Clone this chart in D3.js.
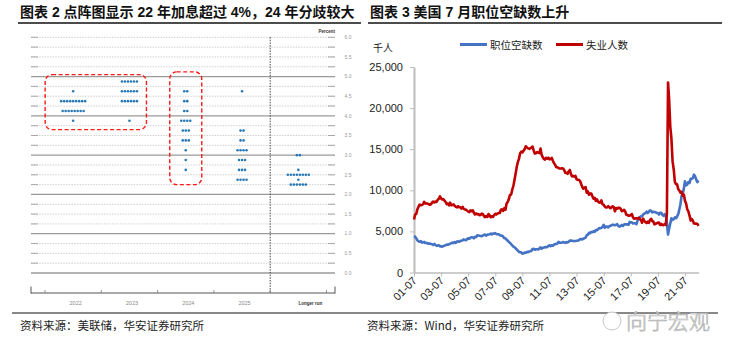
<!DOCTYPE html>
<html>
<head>
<meta charset="utf-8">
<script src="https://cdn.jsdelivr.net/npm/d3@7"></script>
<style>
  body { margin: 0; background: #fff; }
  text { font-family: "Liberation Sans", "Noto Sans CJK SC", sans-serif; }
  .cjk { font-family: "Noto Sans CJK SC", sans-serif; }
</style>
</head>
<body>
<script>
// ---- data: FOMC dot plot (Sept 2022), [rate, number of dots]
let dotCats = ["2022", "2023", "2024", "2025", "Longer run"];
let dot2022 = [[4.625, 1], [4.375, 9], [4.125, 8], [3.875, 1]];
let dot2023 = [[4.875, 6], [4.625, 6], [4.375, 6], [3.875, 1]];
let dot2024 = [[4.625, 2], [4.375, 2], [4.125, 2], [3.875, 4], [3.625, 3], [3.375, 3], [3.125, 1], [2.875, 1], [2.625, 1]];
let dot2025 = [[4.625, 1], [3.625, 2], [3.375, 2], [3.125, 4], [2.875, 3], [2.625, 3], [2.375, 4]];
let dotLonger = [[3.0, 2], [2.625, 1], [2.5, 8], [2.375, 1], [2.25, 6]];
let rateLabels = [0, 0.5, 1, 1.5, 2, 2.5, 3, 3.5, 4, 4.5, 5, 5.5, 6];

// highlighted groups (red dashed boxes): categories + rate range
let boxes = [
	{ from: "2022", to: "2023", top: 5.05, bottom: 3.65 },
	{ from: "2024", to: "2024", top: 5.12, bottom: 2.25 }
];

// ---- data: US job openings vs unemployed, thousands, monthly 2001-07 .. 2022-07
let startMonth = new Date(2001, 6, 1);
let jobOpenings = [
	4430, 4350, 4150, 3920, 3790, 3740,                                   // 2001 H2
	3810, 3640, 3660, 3720, 3580, 3600, 3560, 3490, 3520, 3480, 3440, 3350, // 2002
	3480, 3360, 3250, 3270, 3310, 3210, 3180, 3150, 3220, 3260, 3330, 3390, // 2003
	3390, 3430, 3510, 3560, 3640, 3580, 3700, 3610, 3760, 3790, 3720, 3850, // 2004
	3870, 3900, 4040, 3970, 3920, 4060, 4170, 4110, 4240, 4290, 4280, 4150, // 2005
	4330, 4330, 4520, 4500, 4470, 4440, 4410, 4500, 4570, 4610, 4480, 4610, // 2006
	4620, 4650, 4730, 4640, 4740, 4720, 4800, 4660, 4660, 4660, 4540, 4510, // 2007
	4470, 4340, 4170, 4160, 3990, 3880, 3710, 3610, 3460, 3290, 3140, 3090, // 2008
	2930, 2810, 2650, 2500, 2460, 2450, 2290, 2330, 2420, 2390, 2510, 2480, // 2009
	2560, 2580, 2640, 2850, 2880, 2780, 2820, 2820, 2800, 2920, 3060, 2880, // 2010
	3020, 3030, 3100, 3060, 3110, 3230, 3310, 3210, 3310, 3250, 3400, 3450, // 2011
	3480, 3520, 3720, 3620, 3620, 3630, 3710, 3650, 3610, 3700, 3650, 3740, // 2012
	3880, 3880, 3850, 3820, 3830, 3840, 3860, 3900, 3910, 4040, 4070, 4020, // 2013
	4110, 4180, 4240, 4530, 4590, 4830, 4770, 4940, 4900, 5000, 4940, 5170, // 2014
	5140, 5260, 5400, 5400, 5420, 5560, 5800, 5440, 5580, 5580, 5490, 5640, // 2015
	5680, 5760, 5820, 5780, 5760, 5810, 5880, 5650, 5580, 5670, 5790, 5660, // 2016
	5830, 5870, 5850, 5860, 5810, 6150, 6100, 6100, 5970, 6000, 5990, 5880, // 2017
	6310, 6490, 6670, 6840, 6820, 7060, 7180, 7210, 7400, 7240, 7390, 7570, // 2018
	7490, 7320, 7380, 7360, 7340, 7230, 7240, 7050, 7270, 7260, 7020, 6900, // 2019
	7090, 7000, 6020, 4620, 5370, 6000, 6590, 6400, 6490, 6700, 6600, 6810, // 2020
	7100, 7700, 8300, 9300, 9600, 10200, 11100, 10600, 10700, 11000, 10900, 11400, // 2021
	11400, 11500, 11900, 11700, 11300, 11000, 11200                        // 2022
];
let unemployed = [
	6450, 7042, 7142, 7694, 8003, 8258,                                   // 2001 H2
	8182, 8215, 8304, 8599, 8399, 8393, 8390, 8304, 8251, 8307, 8520, 8640, // 2002
	8520, 8618, 8588, 8842, 8957, 9266, 9011, 8896, 8921, 8732, 8576, 8317, // 2003
	8370, 8167, 8491, 8170, 8212, 8286, 8136, 7990, 7927, 8061, 7932, 7934, // 2004
	7784, 7980, 7737, 7672, 7651, 7524, 7406, 7345, 7553, 7453, 7566, 7279, // 2005
	7064, 7184, 7072, 7120, 6980, 7001, 7175, 7091, 6847, 6727, 6872, 6762, // 2006
	7116, 6927, 6731, 6850, 6766, 6979, 7149, 7067, 7170, 7237, 7240, 7645, // 2007
	7685, 7497, 7822, 7637, 8395, 8575, 8937, 9438, 9494, 10074, 10538, 11286, // 2008
	12058, 12898, 13426, 13853, 14499, 14707, 14601, 14814, 15009, 15352, 15219, 15098, // 2009
	15046, 15113, 15202, 15325, 14849, 14474, 14512, 14648, 14579, 14516, 15081, 14348, // 2010
	14013, 13820, 13737, 13957, 13855, 13962, 13763, 13818, 13948, 13594, 13302, 13093, // 2011
	12797, 12813, 12713, 12646, 12660, 12692, 12656, 12471, 12115, 12124, 12005, 12298, // 2012
	12471, 11950, 11689, 11760, 11654, 11751, 11335, 11279, 11270, 11136, 10787, 10404, // 2013
	10202, 10349, 10380, 9702, 9859, 9460, 9608, 9599, 9262, 8990, 9090, 8717, // 2014
	8903, 8610, 8504, 8526, 8771, 8296, 8248, 8030, 7915, 7927, 8061, 7935, // 2015
	7829, 7948, 8057, 7935, 7446, 7841, 7762, 7887, 7873, 7747, 7450, 7520, // 2016
	7632, 7430, 7038, 7006, 6905, 6923, 6985, 7108, 6671, 6547, 6604, 6584, // 2017
	6558, 6675, 6517, 6380, 6055, 6550, 6269, 6143, 6005, 6177, 6050, 6379, // 2018
	6534, 6249, 6206, 5860, 5920, 6002, 6048, 6065, 5780, 5906, 5788, 5761, // 2019
	5892, 5787, 7185, 23109, 20975, 17697, 16308, 13542, 12535, 11049, 10728, 10736, // 2020
	10130, 9972, 9710, 9812, 9351, 9484, 8740, 8384, 7674, 7444, 6923, 6319, // 2021
	6509, 6270, 5952, 5941, 5950, 5912, 5670                              // 2022
];
let jobTicks = [0, 5000, 10000, 15000, 20000, 25000];
let yearTicks = [2001, 2003, 2005, 2007, 2009, 2011, 2013, 2015, 2017, 2019, 2021];

let width = 734,
	height = 351;

let svg = d3.select("body")
	.append("svg")
	.attr("width", width)
	.attr("height", height);

svg.append("rect").attr("width", width).attr("height", height).attr("fill", "#fff");

// ---- titles + rules
svg.append("text").attr("x", 20).attr("y", 17)
	.attr("font-size", 14).attr("font-weight", "bold").attr("fill", "#111")
	.text("图表 2 点阵图显示 22 年加息超过 4%，24 年分歧较大");
svg.append("text").attr("x", 370).attr("y", 17)
	.attr("font-size", 14).attr("font-weight", "bold").attr("fill", "#111")
	.text("图表 3 美国 7 月职位空缺数上升");
svg.append("line").attr("x1", 18).attr("x2", 361).attr("y1", 23).attr("y2", 23)
	.attr("stroke", "#111").attr("stroke-width", 1.3);
svg.append("line").attr("x1", 368).attr("x2", 722).attr("y1", 23).attr("y2", 23)
	.attr("stroke", "#111").attr("stroke-width", 1.3);

// ================= left: dot plot =================
let xBand = d3.scaleBand().domain(dotCats).range([45, 326.5]);
let yRate = d3.scaleLinear().domain([0, 6]).range([273, 37.3]);
let gridL = 31, gridR = 335;

let left = svg.append("g");
d3.range(0, 6.001, 0.25).forEach(v => {
	let y = yRate(v);
	if (Number.isInteger(v) && v < 6) {
		left.append("line").attr("x1", gridL).attr("x2", gridR).attr("y1", y).attr("y2", y)
			.attr("stroke", "#9a9a9a").attr("stroke-width", 1.3);
	} else {
		left.append("line").attr("x1", gridL).attr("x2", gridR).attr("y1", y).attr("y2", y)
			.attr("stroke", "#c4c4c4").attr("stroke-width", 0.8).attr("stroke-dasharray", "1.5,1.2");
		[[gridL, gridL + 7], [gridR - 7, gridR]].forEach(s => {
			left.append("line").attr("x1", s[0]).attr("x2", s[1]).attr("y1", y).attr("y2", y)
				.attr("stroke", "#a8a8a8").attr("stroke-width", 1);
		});
	}
});

left.selectAll(".rl")
	.data(rateLabels)
	.enter()
	.append("text")
	.attr("x", 348)
	.attr("y", d => yRate(d))
	.attr("dy", "0.35em")
	.attr("text-anchor", "middle")
	.attr("font-size", 5)
	.attr("fill", "#9a9a9a")
	.text(d => d3.format(".1f")(d));
left.append("text").attr("x", 335).attr("y", 33).attr("text-anchor", "end")
	.attr("font-size", 4.5).attr("font-weight", "bold").attr("fill", "#333").text("Percent");

// divider before longer run
let divX = xBand("Longer run");
left.append("line").attr("x1", divX).attr("x2", divX).attr("y1", 37).attr("y2", 293)
	.attr("stroke", "#444").attr("stroke-width", 1).attr("stroke-dasharray", "1.5,1.2");

// bottom axis
let axisY = 293;
left.append("line").attr("x1", gridL).attr("x2", gridR).attr("y1", axisY).attr("y2", axisY)
	.attr("stroke", "#555").attr("stroke-width", 1);
[gridL, gridR].forEach(x => {
	left.append("line").attr("x1", x).attr("x2", x).attr("y1", axisY - 6.5).attr("y2", axisY + 0.5)
		.attr("stroke", "#555").attr("stroke-width", 1);
});
dotCats.concat(["end"]).forEach((c, i) => {
	let x = c === "end" ? xBand.range()[1] : xBand(c);
	left.append("line").attr("x1", x).attr("x2", x).attr("y1", axisY - 3).attr("y2", axisY)
		.attr("stroke", "#777").attr("stroke-width", 0.8);
});
left.selectAll(".cl")
	.data(dotCats)
	.enter()
	.append("text")
	.attr("x", d => xBand(d) + xBand.bandwidth() / 2 + (d === "Longer run" ? 12 : 2.5))
	.attr("y", 305)
	.attr("text-anchor", "middle")
	.attr("font-size", d => d === "Longer run" ? 4.5 : 5.5)
	.attr("font-weight", d => d === "Longer run" ? "bold" : "normal")
	.attr("font-family", d => d === "Longer run" ? "Liberation Sans" : "Liberation Serif")
	.attr("fill", d => d === "Longer run" ? "#333" : "#8a8a8a")
	.text(d => d);

// dots
let dotSets = [dot2022, dot2023, dot2024, dot2025, dotLonger];
let dots = [];
dotSets.forEach((rows, k) => {
	let cx = xBand(dotCats[k]) + xBand.bandwidth() / 2;
	rows.forEach(r => {
		for (let i = 0; i < r[1]; i++) {
			dots.push({ x: cx + (i - (r[1] - 1) / 2) * 3, rate: r[0] });
		}
	});
});
left.selectAll("circle")
	.data(dots)
	.enter()
	.append("circle")
	.attr("cx", d => d.x)
	.attr("cy", d => yRate(d.rate))
	.attr("r", 1.3)
	.attr("fill", "#2878b5");

// red dashed boxes
let boxPad = { "2022": -28, "2023": 17, "2024": 16 };
boxes.forEach(b => {
	let c0 = xBand(b.from) + xBand.bandwidth() / 2,
		c1 = xBand(b.to) + xBand.bandwidth() / 2;
	let x0 = b.from === b.to ? c0 - boxPad[b.from] : c0 + boxPad[b.from],
		x1 = c1 + boxPad[b.to];
	left.append("rect")
		.attr("x", x0).attr("y", yRate(b.top))
		.attr("width", x1 - x0).attr("height", yRate(b.bottom) - yRate(b.top))
		.attr("rx", 7)
		.attr("fill", "none")
		.attr("stroke", "#ff1a1a")
		.attr("stroke-width", 1.4)
		.attr("stroke-dasharray", "4,2.5");
});

// ================= right: job openings vs unemployed =================
let months = d3.timeMonth.range(startMonth, d3.timeMonth.offset(startMonth, jobOpenings.length));
console.log(months.length, jobOpenings.length, unemployed.length);

let xTime = d3.scaleTime()
	.domain([startMonth, months[months.length - 1]])
	.range([414, 698.5]);
let yJobs = d3.scaleLinear()
	.domain([0, 25000])
	.range([272.5, 67]);

let right = svg.append("g");

let yAxis = d3.axisLeft(yJobs)
	.tickValues(jobTicks)
	.tickFormat(d3.format(","))
	.tickSize(4)
	.tickSizeOuter(0)
	.tickPadding(7);
let gy = right.append("g")
	.attr("transform", "translate(414,0)")
	.call(yAxis);
gy.select(".domain").attr("stroke", "#bdbdbd").attr("stroke-width", 2);
gy.selectAll(".tick line").attr("stroke", "#bdbdbd");
gy.selectAll(".tick text").attr("font-size", 11).attr("fill", "#222")
	.attr("font-family", "Liberation Sans");

let xAxis = d3.axisBottom(xTime)
	.tickValues(yearTicks.map(y => new Date(y, 6, 1)))
	.tickFormat(d3.timeFormat("%y-%m"))
	.tickSize(4)
	.tickSizeOuter(0);
let gx = right.append("g")
	.attr("transform", "translate(0,272.5)")
	.call(xAxis);
gx.select(".domain").attr("stroke", "#bdbdbd").attr("stroke-width", 1.5);
gx.selectAll(".tick line").attr("stroke", "#bdbdbd");
gx.selectAll(".tick text")
	.attr("font-size", 11).attr("fill", "#222").attr("font-family", "Liberation Sans")
	.attr("text-anchor", "end")
	.attr("x", -4).attr("y", 8.5).attr("dy", 0)
	.attr("transform", "rotate(-45)");

let line = d3.line()
	.x((d, i) => xTime(months[i]))
	.y(d => yJobs(d));

right.append("path")
	.datum(jobOpenings)
	.attr("d", line)
	.attr("fill", "none")
	.attr("stroke", "#4472c4")
	.attr("stroke-width", 2.6)
	.attr("stroke-linejoin", "round");
right.append("path")
	.datum(unemployed)
	.attr("d", line)
	.attr("fill", "none")
	.attr("stroke", "#c00000")
	.attr("stroke-width", 2.6)
	.attr("stroke-linejoin", "round");

// unit + legend
right.append("text").attr("class", "cjk").attr("x", 373).attr("y", 52)
	.attr("font-size", 10).attr("fill", "#222").text("千人");
let legend = [
	{ name: "职位空缺数", color: "#4472c4", x: 460 },
	{ name: "失业人数", color: "#c00000", x: 556 }
];
legend.forEach(l => {
	right.append("line").attr("x1", l.x).attr("x2", l.x + 27).attr("y1", 44.5).attr("y2", 44.5)
		.attr("stroke", l.color).attr("stroke-width", 3);
	right.append("text").attr("class", "cjk").attr("x", l.x + 30).attr("y", 48.5)
		.attr("font-size", 10.5).attr("fill", "#222").text(l.name);
});

// ---- footer
svg.append("line").attr("x1", 12).attr("x2", 718).attr("y1", 313).attr("y2", 313)
	.attr("stroke", "#111").attr("stroke-width", 1);
svg.append("text").attr("class", "cjk").attr("x", 20).attr("y", 330)
	.attr("font-size", 11.5).attr("fill", "#222").text("资料来源：美联储，华安证券研究所");
svg.append("text").attr("class", "cjk").attr("x", 367).attr("y", 330)
	.attr("font-size", 11.5).attr("fill", "#222").text("资料来源：Wind，华安证券研究所");

// watermark
svg.append("circle").attr("cx", 612).attr("cy", 321).attr("r", 9)
	.attr("fill", "#fff").attr("stroke", "#c8c8c8").attr("stroke-width", 1);
svg.append("text").attr("class", "cjk").attr("x", 626).attr("y", 329)
	.attr("font-size", 21).attr("font-weight", 300)
	.attr("fill", "#fff").attr("stroke", "#b0b0b0").attr("stroke-width", 0.7)
	.text("向宁宏观");
</script>
</body>
</html>
